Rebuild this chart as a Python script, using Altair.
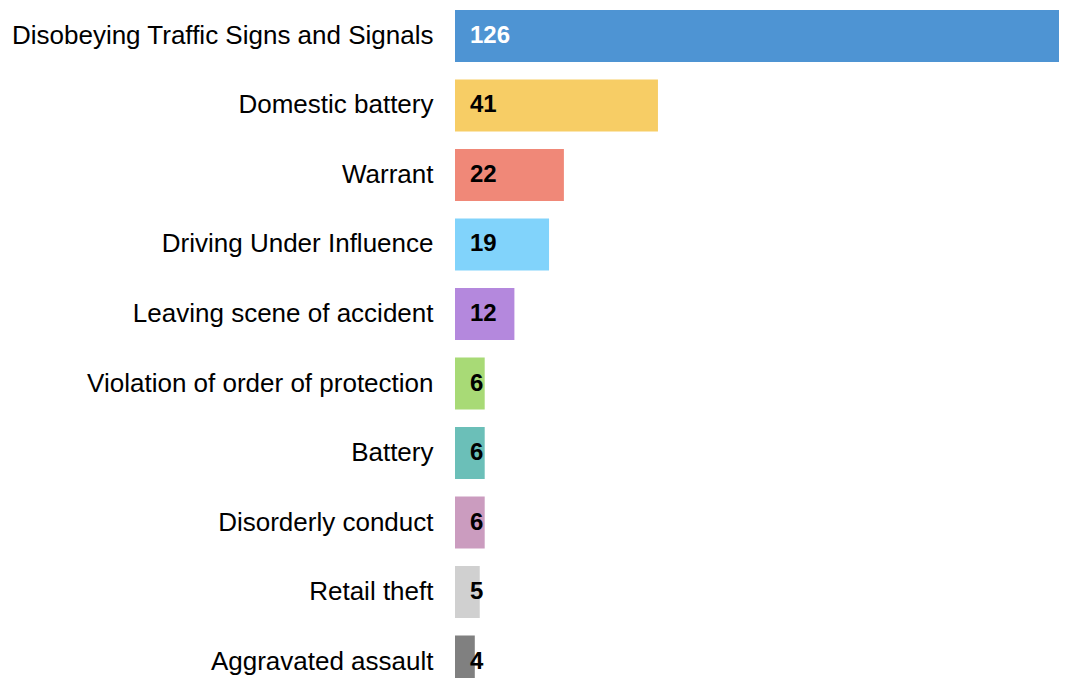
import altair as alt
import pandas as pd

categories = [
    "Disobeying Traffic Signs and Signals",
    "Domestic battery",
    "Warrant",
    "Driving Under Influence",
    "Leaving scene of accident",
    "Violation of order of protection",
    "Battery",
    "Disorderly conduct",
    "Retail theft",
    "Aggravated assault",
]
counts = [126, 41, 22, 19, 12, 6, 6, 6, 5, 4]
colors = ["#4e94d3", "#f7cd65", "#f08878", "#81d3fb", "#b488dd",
          "#a8da76", "#6bbfb8", "#cb9cbf", "#d0d0d0", "#808080"]
text_colors = ["white"] + ["black"] * 9

df = pd.DataFrame({"cat": categories, "n": counts, "col": colors, "tcol": text_colors})

XMAX = 604 / 4.95

y = alt.Y("cat:N", sort=categories,
          scale=alt.Scale(range=[2, 679.5], paddingInner=0.2518, paddingOuter=0),
          axis=alt.Axis(title=None, domain=False, ticks=False, labelFontSize=26,
                        labelFont="Liberation Sans", labelColor="black",
                        labelPadding=22, labelLimit=0))
x = alt.X("n:Q", scale=alt.Scale(domain=[0, XMAX], nice=False, zero=True),
          axis=None)

bars = alt.Chart(df).mark_bar(clip=True).encode(
    x=x, y=y, color=alt.Color("col:N", scale=None)
)
labels = alt.Chart(df).mark_text(align="left", baseline="middle", dx=15,
                                 fontSize=24, fontWeight="bold",
                                 font="Liberation Sans").encode(
    x=alt.X("z:Q", scale=alt.Scale(domain=[0, XMAX], nice=False, zero=True), axis=None),
    y=y, text="n:Q", color=alt.Color("tcol:N", scale=None)
).transform_calculate(z="0")

chart = alt.layer(bars, labels).properties(
    width=604, height=670,
    autosize=alt.AutoSizeParams(type="none"),
    padding={"left": 447, "top": 0, "right": 0, "bottom": 0},
).configure_view(stroke=None).configure_axis(grid=False)

chart.save("out.html", embed_options={"renderer": "svg", "actions": False})
